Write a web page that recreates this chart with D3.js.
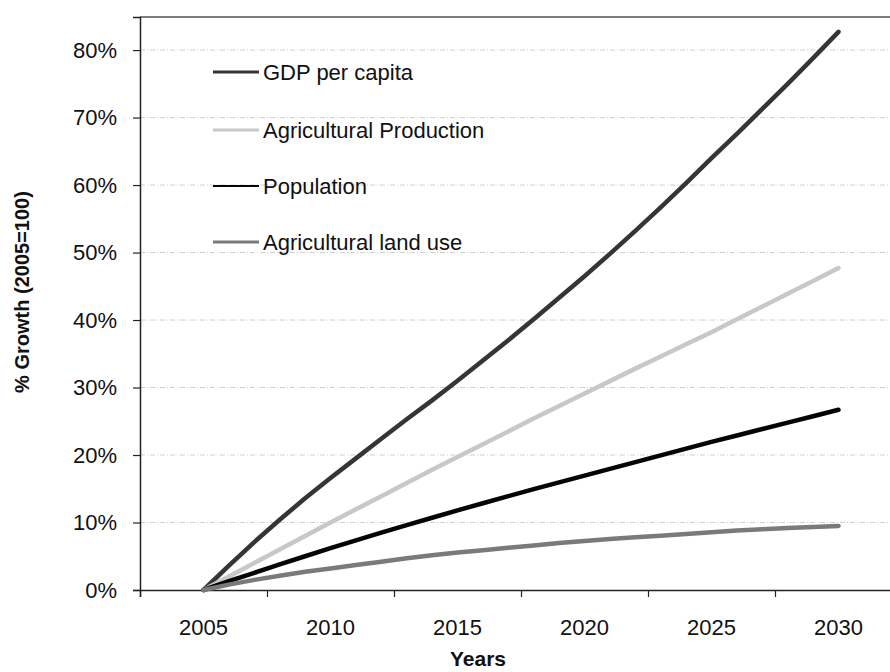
<!DOCTYPE html>
<html>
<head>
<meta charset="utf-8">
<script src="https://cdn.jsdelivr.net/npm/d3@7"></script>
<style>
  html, body { margin: 0; padding: 0; background: #fff; }
  svg { display: block; }
  text { font-family: "Liberation Sans", Arial, sans-serif; fill: #111; }
</style>
</head>
<body>
<svg id="chart" width="890" height="672"></svg>
<script>
// Projected growth relative to 2005 (percent), annual values 2005–2030
const years = d3.range(2005, 2031);
const gdpPerCapita = [0, 3.6, 7.1, 10.4, 13.6, 16.6, 19.5, 22.4, 25.3, 28.1, 31.0, 34.0, 37.0, 40.1, 43.3, 46.5, 49.8, 53.2, 56.7, 60.3, 64.0, 67.6, 71.3, 75.0, 78.8, 82.7];
const agriProduction = [0, 2.0, 4.0, 6.0, 8.0, 10.0, 11.95, 13.9, 15.85, 17.8, 19.7, 21.6, 23.5, 25.4, 27.25, 29.1, 30.95, 32.8, 34.6, 36.4, 38.2, 40.1, 42.0, 43.9, 45.8, 47.7];
const population = [0, 1.3, 2.55, 3.8, 5.0, 6.2, 7.35, 8.5, 9.6, 10.7, 11.8, 12.85, 13.9, 14.95, 15.95, 16.95, 17.95, 18.95, 19.95, 20.95, 21.95, 22.9, 23.85, 24.8, 25.75, 26.7];
const agriLandUse = [0, 0.8, 1.5, 2.1, 2.7, 3.2, 3.7, 4.2, 4.7, 5.15, 5.55, 5.9, 6.25, 6.6, 6.95, 7.25, 7.55, 7.8, 8.05, 8.3, 8.55, 8.8, 9.0, 9.2, 9.35, 9.5];

const seriesNames = ["GDP per capita", "Agricultural Production", "Population", "Agricultural land use"];
const seriesValues = [gdpPerCapita, agriProduction, population, agriLandUse];
const seriesColors = ["#353535", "#c8c8c8", "#050505", "#7a7a7a"];
const legendWidths = [3, 3, 2, 3];

const xTickLabels = [2005, 2010, 2015, 2020, 2025, 2030];
const yTickValues = [0, 10, 20, 30, 40, 50, 60, 70, 80];

const svg = d3.select("#chart");

const plotLeft = 140, plotTop = 17, plotBottom = 590;
const x = d3.scaleLinear().domain([2002.5, 2032.5]).range([plotLeft, plotLeft + 30 * 25.4]);
const y = d3.scaleLinear().domain([0, 84.9]).range([plotBottom, plotTop]);
const plotRight = x(2032.5);

// gridlines
svg.append("g")
  .selectAll("line")
  .data(yTickValues.filter(v => v > 0))
  .join("line")
  .attr("x1", plotLeft).attr("x2", plotRight)
  .attr("y1", d => y(d)).attr("y2", d => y(d))
  .attr("stroke", "#cfcfcf")
  .attr("stroke-width", 1)
  .attr("stroke-dasharray", "5,2,1,2");

// plot frame (top and right)
svg.append("path")
  .attr("d", `M${plotLeft},${plotTop}H${plotRight}V${plotBottom}`)
  .attr("fill", "none")
  .attr("stroke", "#7d7d7d")
  .attr("stroke-width", 2);

// y axis
const yAxis = svg.append("g")
  .attr("transform", `translate(${plotLeft},0)`)
  .call(d3.axisLeft(y).tickValues(yTickValues).tickSize(7).tickPadding(16)
    .tickFormat(d => d + "%"));
yAxis.select(".domain").attr("stroke", "#222").attr("stroke-width", 1.5);
yAxis.selectAll(".tick line").attr("stroke", "#222").attr("stroke-width", 1.2);
yAxis.selectAll("text")
  .attr("font-size", 22)
  .attr("font-family", "Liberation Sans, Arial, sans-serif")
  .attr("fill", "#111");

// x axis: tick marks between the labelled years, labels on the years
const xTickMarks = d3.range(2002.5, 2033, 5);
const xAxis = svg.append("g")
  .attr("transform", `translate(0,${plotBottom})`)
  .call(d3.axisBottom(x).tickValues(xTickMarks).tickSize(7).tickFormat(""));
xAxis.select(".domain").attr("stroke", "#222").attr("stroke-width", 1.5);
xAxis.selectAll(".tick line").attr("stroke", "#222").attr("stroke-width", 1.2);

svg.append("g")
  .selectAll("text")
  .data(xTickLabels)
  .join("text")
  .attr("x", d => x(d))
  .attr("y", 635)
  .attr("text-anchor", "middle")
  .attr("font-size", 22)
  .text(d => d);

// axis titles
svg.append("text")
  .attr("x", 478).attr("y", 666)
  .attr("text-anchor", "middle")
  .attr("font-size", 21)
  .attr("font-weight", "bold")
  .text("Years");

svg.append("text")
  .attr("transform", "translate(29,292) rotate(-90)")
  .attr("text-anchor", "middle")
  .attr("font-size", 20)
  .attr("font-weight", "bold")
  .text("% Growth (2005=100)");

// series lines
const line = d3.line()
  .x((d, i) => x(years[i]))
  .y(d => y(d));

svg.append("g")
  .selectAll("path")
  .data(seriesValues)
  .join("path")
  .attr("d", d => line(d))
  .attr("fill", "none")
  .attr("stroke", (d, i) => seriesColors[i])
  .attr("stroke-width", 4.5)
  .attr("stroke-linejoin", "round")
  .attr("stroke-linecap", "round");

// legend
const legend = svg.append("g");
const legendY = [72, 130, 186, 242];
seriesNames.forEach((name, i) => {
  legend.append("line")
    .attr("x1", 213).attr("x2", 259)
    .attr("y1", legendY[i]).attr("y2", legendY[i])
    .attr("stroke", seriesColors[i])
    .attr("stroke-width", legendWidths[i]);
  legend.append("text")
    .attr("x", 263).attr("y", legendY[i])
    .attr("dy", "0.35em")
    .attr("font-size", 22)
    .text(name);
});
</script>
</body>
</html>
